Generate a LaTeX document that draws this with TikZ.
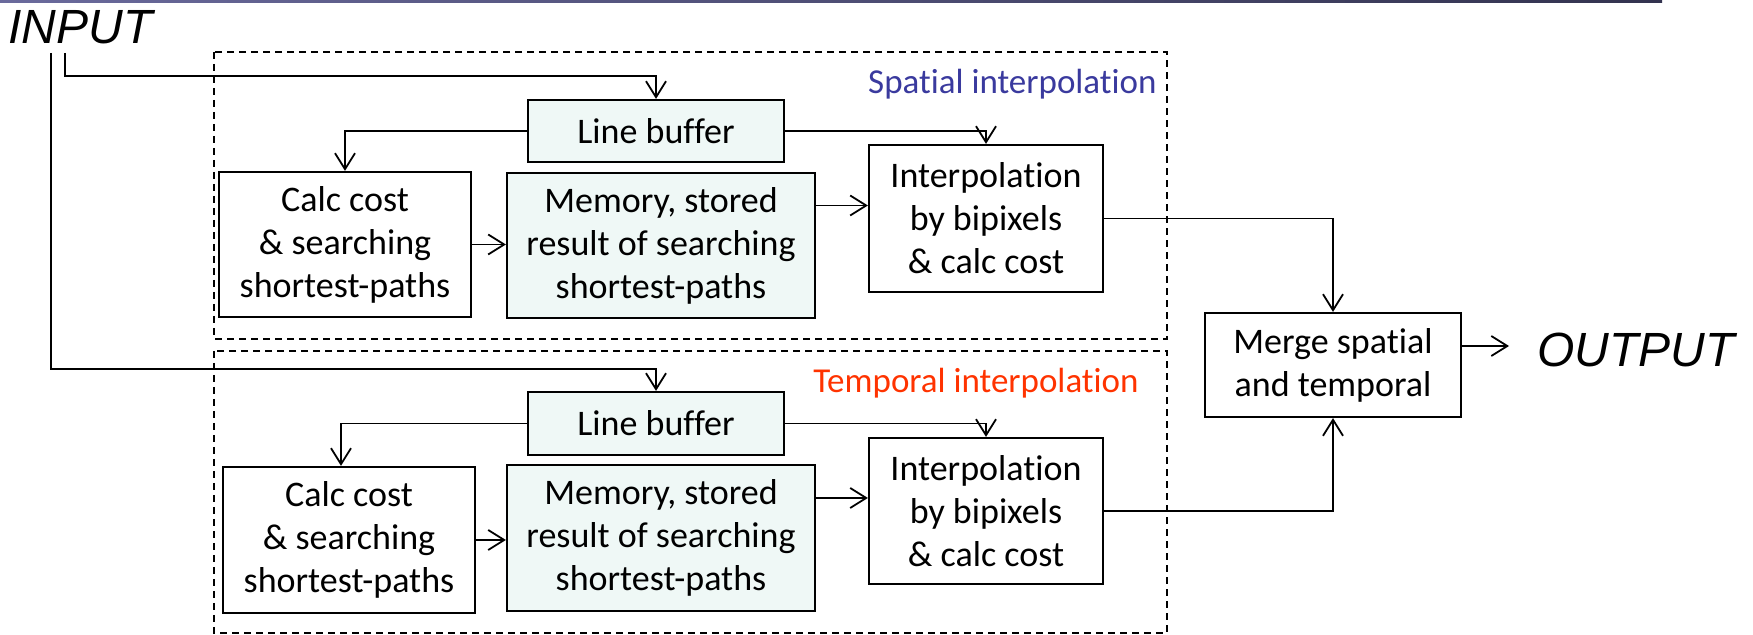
\documentclass[tikz,border=0pt]{standalone}
\usepackage{fontspec}
\setmainfont{Carlito}[Ligatures=NoCommon]
\newfontfamily\iofont{Liberation Sans}
\usetikzlibrary{arrows.meta}
\definecolor{boxfill}{HTML}{EFF8F6}
\definecolor{spatialblue}{HTML}{3A3A9E}
\definecolor{temporalred}{HTML}{FF3300}
\definecolor{barleft}{HTML}{6A6A9C}
\definecolor{barright}{HTML}{33334F}

\begin{document}
\begin{tikzpicture}[x=0.5pt,y=-0.5pt,
  block/.style={draw, line width=1.1pt, align=center, inner sep=0pt,
    font=\fontsize{18}{21.5}\selectfont},
  filled/.style={block, fill=boxfill},
  group/.style={draw, line width=0.75pt, dash pattern=on 3.5pt off 2.5pt},
  arr/.style={line width=0.9pt, -{Straight Barb[length=8pt,width=10pt,line width=0.9pt]}},
  lbl/.style={anchor=base east, inner sep=0pt, font=\fontsize{17.5}{21}\selectfont},
  io/.style={anchor=base west, inner sep=0pt, font=\iofont\itshape\fontsize{24}{28}\selectfont}
]
\useasboundingbox (0,0) rectangle (1753,635);

% header rule
\shade[left color=barleft, right color=barright] (0,0) rectangle (1662,3);

% groups
\draw[group] (214,52) rectangle (1167,339);
\draw[group] (214,351) rectangle (1167,633);
\node[lbl, text=spatialblue] (splabel) at (1157,94) {Spatial interpolation};
\node[lbl, text=temporalred] (tmlabel) at (1139,393) {Temporal interpolation};

% input / output
\node[io] (input) at (8,44) {INPUT};
\node[io] (output) at (1537,367) {OUTPUT};
\coordinate (inA) at (65,53);
\coordinate (inB) at (51,53);

% spatial branch
\node[filled, minimum width=128pt, minimum height=31pt] (lb1) at (656,131) {Line buffer};
\node[block, minimum width=126pt, minimum height=72.5pt] (calc1) at (345,244.5) {Calc cost\\\& searching\\shortest-paths};
\node[filled, minimum width=154pt, minimum height=72.5pt] (mem1) at (661,245.5) {Memory, stored\\result of searching\\shortest-paths};
\node[block, minimum width=117pt, minimum height=73.5pt] (int1) at (986,218.5) {Interpolation\\by bipixels\\\& calc cost};

% temporal branch
\node[filled, minimum width=128pt, minimum height=31.5pt] (lb2) at (656,423.5) {Line buffer};
\node[block, minimum width=126pt, minimum height=73pt] (calc2) at (349,540) {Calc cost\\\& searching\\shortest-paths};
\node[filled, minimum width=154pt, minimum height=73pt] (mem2) at (661,538) {Memory, stored\\result of searching\\shortest-paths};
\node[block, minimum width=117pt, minimum height=73pt] (int2) at (986,511) {Interpolation\\by bipixels\\\& calc cost};

% merge
\node[block, minimum width=128pt, minimum height=52pt] (merge) at (1333,365) {Merge spatial\\and temporal};

% connectors
\draw[arr] (inA) |- ([yshift=11.5pt]lb1.north) -- (lb1.north);
\draw[arr] (inB) |- ([yshift=11pt]lb2.north) -- (lb2.north);

\draw[arr] (lb1.west) -| (calc1.north);
\draw[arr] (lb1.east) -| (int1.north);
\draw[arr] (calc1.east) -- (calc1.east -| mem1.west);
\draw[arr] ([yshift=20pt]mem1.east) -- ([yshift=20pt]mem1.east -| int1.west);

\draw[arr] (lb2.west) -| ([xshift=-4pt]calc2.north);
\draw[arr] (lb2.east) -| (int2.north);
\draw[arr] (calc2.east) -- (calc2.east -| mem2.west);
\draw[arr] ([yshift=20pt]mem2.east) -- ([yshift=20pt]mem2.east -| int2.west);

\draw[arr] (int1.east) -| (merge.north);
\draw[arr] (int2.east) -| (merge.south);
\draw[arr, shorten >=14pt] ([yshift=9.5pt]merge.east) -- ([yshift=9.5pt]merge.east -| output.west);
\end{tikzpicture}
\end{document}
